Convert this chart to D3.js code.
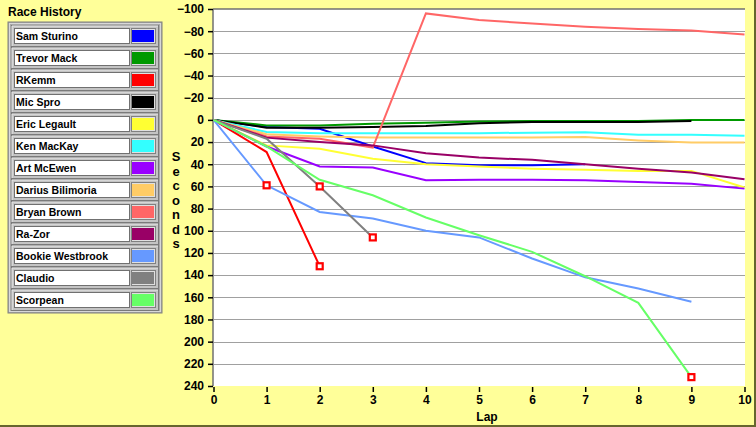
<!DOCTYPE html>
<html><head><meta charset="utf-8">
<script src="https://cdn.jsdelivr.net/npm/d3@7"></script>
<style>
html,body{margin:0;padding:0;background:#ffff99;}
svg{display:block;}
text{font-family:"Liberation Sans",Arial,sans-serif;font-weight:bold;fill:#000;}
</style></head>
<body>
<svg id="c" width="756" height="427"></svg>
<script>
// ---- data ----
const drivers = ["Sam Sturino","Trevor Mack","RKemm","Mic Spro","Eric Legault","Ken MacKay","Art McEwen","Darius Bilimoria","Bryan Brown","Ra-Zor","Bookie Westbrook","Claudio","Scorpean"];
const colors  = ["#0000ff","#009900","#ff0000","#000000","#ffff33","#33ffff","#9900ff","#ffcc66","#ff6666","#990066","#6699ff","#808080","#66ff66"];
const samSturino      = [0,6.5,8,24,39,41,41,40];
const trevorMack      = [0,5,5,3.5,2.5,1.5,1,1,1,0,0];
const rKemm           = [0,29,132];
const micSpro         = [0,7,7,6.5,5.5,3,2,2,2,1];
const ericLegault     = [0,23,26,35,40,42,44,45,46,46,61];
const kenMacKay       = [0,11,12,12,12,12,11.5,11.2,13.3,13.3,14.3];
const artMcEwen       = [0,24,42,43,54.5,54,54,54.5,56,57.5,62];
const dariusBilimoria = [0,13,15,16,16,16,16,15.5,18.5,20.5,20.5];
const bryanBrown      = [0,15,17,25,-96,-90,-87,-84,-82,-80.5,-77];
const raZor           = [0,16,20,23,30,34,36,40,44,47.5,53.5];
const bookieWestbrook = [0,59,83,89,100,106,125,142,152,164];
const claudio         = [0,17,60,106];
const scorpean        = [0,24,54,68,88,104,119,141,165,232];
const series = [samSturino,trevorMack,rKemm,micSpro,ericLegault,kenMacKay,artMcEwen,dariusBilimoria,bryanBrown,raZor,bookieWestbrook,claudio,scorpean];
// markers: [driver index, lap]
const markers = [[10,1],[11,2],[11,3],[2,2],[12,9]];
const yTicks = [-100,-80,-60,-40,-20,0,20,40,60,80,100,120,140,160,180,200,220,240];
const xTicks = [0,1,2,3,4,5,6,7,8,9,10];

// ---- layout ----
const svg = d3.select("#c");
const W=756,H=427;
const pl=213.5, pr=744.5, pt=9, pb=386;
const x = d3.scaleLinear().domain([0,10]).range([pl,pr]);
const y = d3.scaleLinear().domain([-100,240]).range([pt,pb]);

svg.append("rect").attr("width",W).attr("height",H).attr("fill","#ffff99");
svg.append("line").attr("x1",0).attr("x2",W).attr("y1",H-1).attr("y2",H-1).attr("stroke","#66662e").attr("stroke-width",2);
svg.append("line").attr("x1",W-1).attr("x2",W-1).attr("y1",0).attr("y2",H).attr("stroke","#66662e").attr("stroke-width",2);

// plot background
svg.append("rect").attr("x",213).attr("y",pt).attr("width",745-213).attr("height",pb-pt).attr("fill","#fff");

// gridlines
svg.append("g").attr("transform",`translate(${pl},0)`)
  .call(d3.axisLeft(y).tickValues(yTicks.filter(v=>v>-100 && v<240)).tickSize(-(745-pl)).tickFormat(""))
  .call(g=>g.select(".domain").remove())
  .call(g=>g.selectAll("line").attr("stroke","#a0a0a0").attr("shape-rendering","crispEdges"));

// borders
svg.append("line").attr("x1",213).attr("x2",745).attr("y1",pt).attr("y2",pt).attr("stroke","#707070").attr("stroke-width",1.5);
svg.append("line").attr("x1",213).attr("x2",213).attr("y1",pt).attr("y2",pb).attr("stroke","#707070").attr("stroke-width",1.5);

// y axis
const ya = svg.append("g").attr("transform",`translate(213,0)`)
  .call(d3.axisLeft(y).tickValues(yTicks).tickSize(5).tickPadding(4));
ya.select(".domain").remove();
ya.selectAll("line").attr("stroke","#000").attr("stroke-width",1.5);
ya.selectAll("text").style("font-size","12px").style("font-family","Liberation Sans, Arial, sans-serif").style("font-weight","bold").attr("fill","#000");

// x axis
const xa = svg.append("g").attr("transform",`translate(0,387)`)
  .call(d3.axisBottom(x).tickValues(xTicks).tickSize(5).tickPadding(3));
xa.select(".domain").remove();
xa.selectAll("line").attr("stroke","#000").attr("stroke-width",1.5);
xa.selectAll("text").style("font-size","12px").style("font-family","Liberation Sans, Arial, sans-serif").style("font-weight","bold").attr("fill","#000");

// axis titles
svg.append("text").attr("x",487).attr("y",421).attr("text-anchor","middle").style("font-size","12px").text("Lap");
const sec = "Seconds".split("");
svg.append("g").selectAll("text").data(sec).join("text")
  .attr("x",176).attr("y",(d,i)=>161+i*14.5).attr("text-anchor","middle").style("font-size","13px").text(d=>d);

// lines
const line = d3.line().x((d,i)=>x(i)).y(d=>y(d));
svg.append("clipPath").attr("id","pc").append("rect").attr("x",213).attr("y",pt).attr("width",745-213).attr("height",pb-pt);
const lg = svg.append("g").attr("clip-path","url(#pc)");
series.forEach((s,k)=>{
  lg.append("path").datum(s).attr("d",line).attr("fill","none").attr("stroke",colors[k])
    .attr("stroke-width",2).attr("stroke-linejoin","miter");
});
// markers
svg.append("g").selectAll("rect").data(markers).join("rect")
  .attr("x",d=>x(d[1])-3).attr("y",d=>y(series[d[0]][d[1]])-3)
  .attr("width",6).attr("height",6).attr("fill","#fff").attr("stroke","#ff0000").attr("stroke-width",2.2);

// legend
svg.append("text").attr("x",8).attr("y",16).style("font-size","12px").text("Race History");
const lgd = svg.append("g");
lgd.append("rect").attr("x",8).attr("y",22).attr("width",154).attr("height",291).attr("fill","#a8a8a8").attr("stroke","#808080");
lgd.append("rect").attr("x",9.5).attr("y",23.5).attr("width",151).attr("height",288).attr("fill","none").attr("stroke","#d8d8d8").attr("stroke-width",1);
const rows = lgd.selectAll("g.row").data(drivers).join("g").attr("class","row")
  .attr("transform",(d,i)=>`translate(0,${25+22*i})`);
rows.append("rect").attr("x",11.5).attr("y",0.5).attr("width",147).attr("height",21).attr("fill","#c4c4c4").attr("stroke","#7a7a7a");
rows.append("path").attr("d","M12,21 V1 H158").attr("fill","none").attr("stroke","#e8e8e8");
rows.append("rect").attr("x",14.5).attr("y",3.5).attr("width",115).attr("height",15).attr("fill","#fff").attr("stroke","#707070");
rows.append("rect").attr("x",131.5).attr("y",3.5).attr("width",24).attr("height",15).attr("fill","#e0e0e0").attr("stroke","#808080");
rows.append("rect").attr("x",132).attr("y",5).attr("width",22).attr("height",12).attr("fill",(d,i)=>colors[i]);
rows.append("text").attr("x",16).attr("y",15).style("font-size","10.5px").text(d=>d);
</script>
</body></html>
